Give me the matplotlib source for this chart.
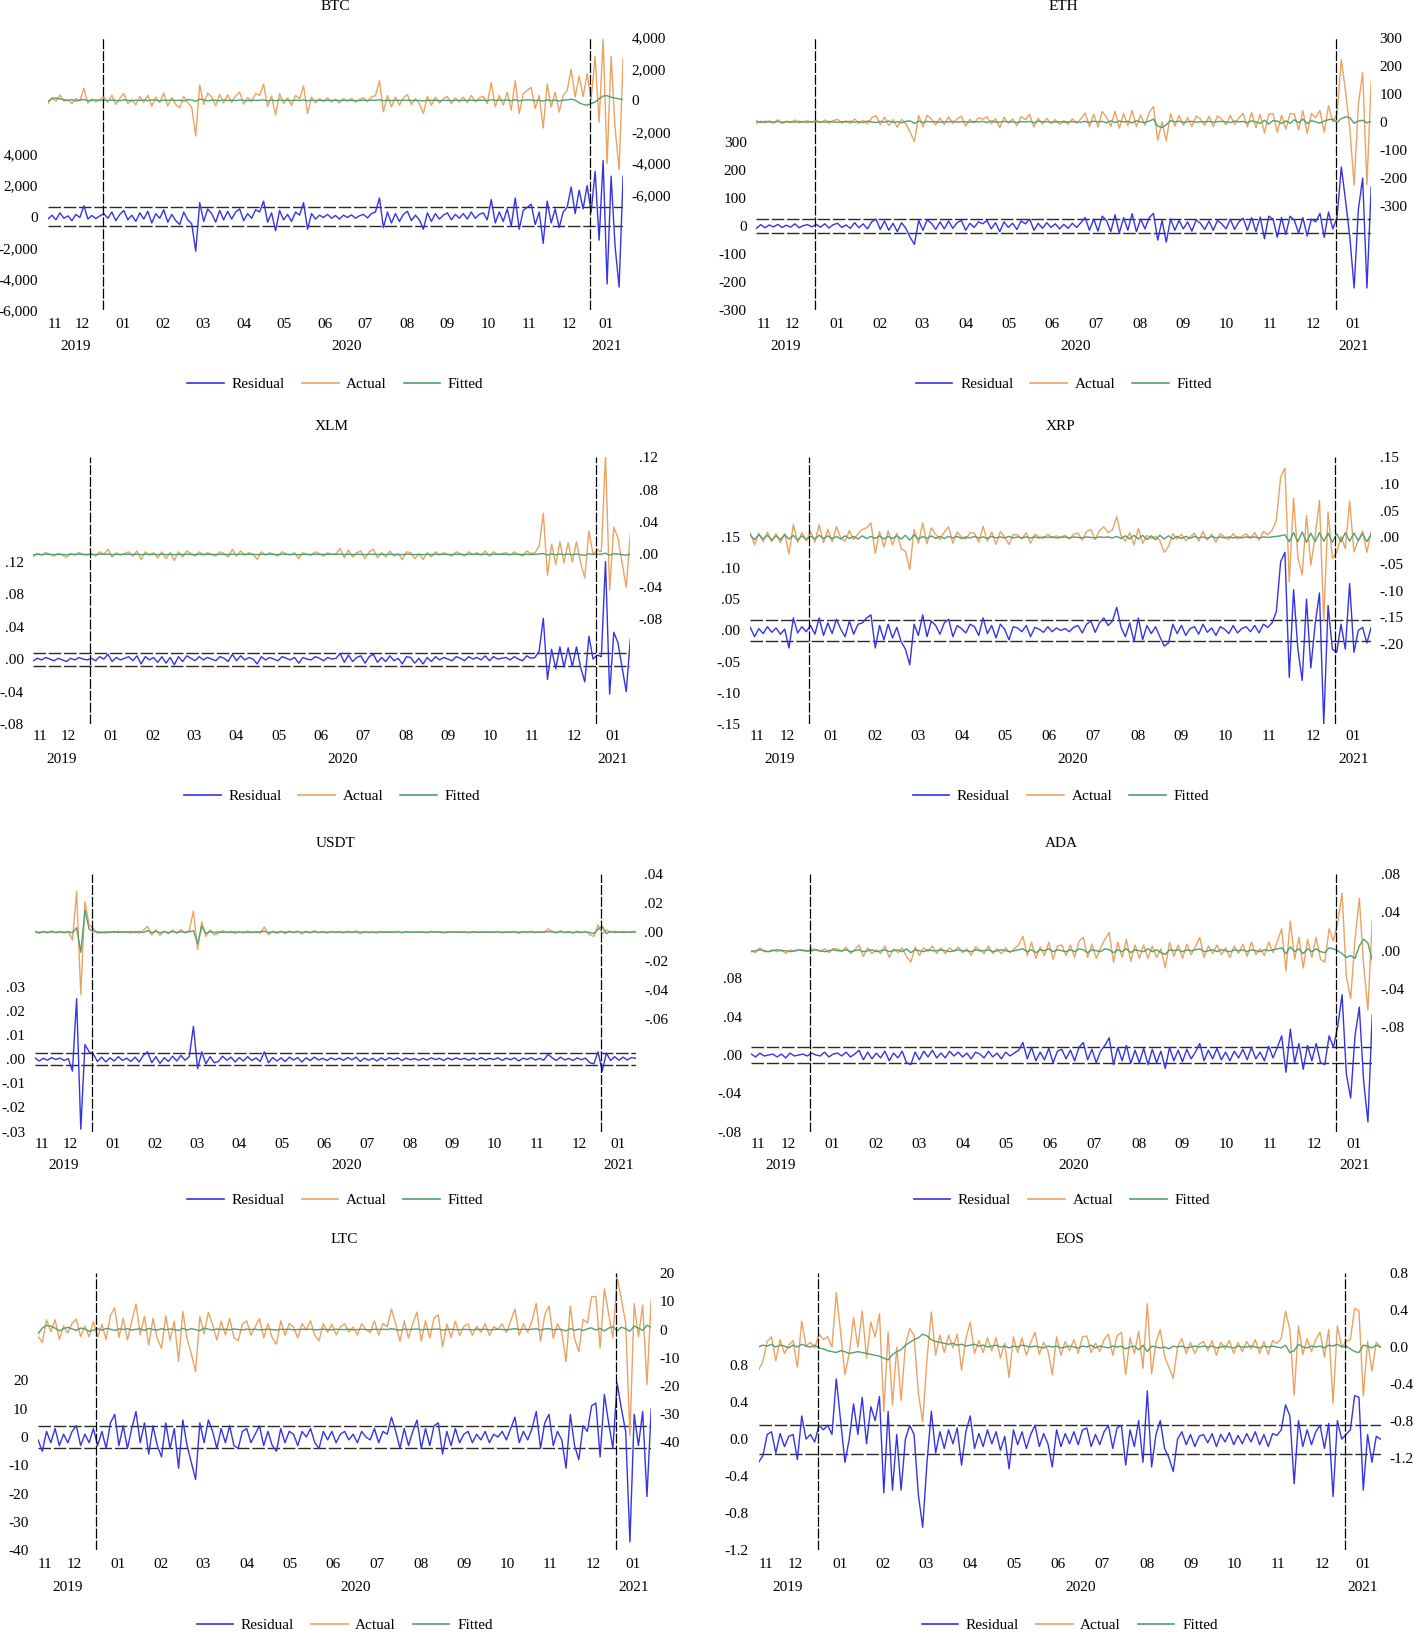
import numpy as np
import pandas as pd
import matplotlib
matplotlib.use("Agg")
import matplotlib.pyplot as plt
import matplotlib.transforms as mtransforms
import matplotlib.dates as mdates
from matplotlib.lines import Line2D

plt.rcParams["font.family"] = ["Liberation Serif", "DejaVu Serif"]
plt.rcParams["font.size"] = 11

# ---------------- data ----------------
dates = pd.date_range("2019-11-21", periods=145, freq="3D")
break_dates = ["2020-01-01", "2021-01-01"]
legend_labels = ["Residual", "Actual", "Fitted"]

# BTC (USD)
btc_res = [-150, 100, -200, 250, -100, 50, -250, 150, -50, 700, -150, 80, -120, 60,
           200, -100, 300, -250, 150, 400, -200, 100, -300, 250,
           -150, 350, -400, 200, -100, 450, -350, 150, -250, -500,
           300, -200, -450, -2200, 900, -300, 500, 200, -350, 400,
           -200, 350, -150, 300, 500, -250, 200, -100, 450, 300,
           1000, -350, 250, -900, 400, -200, 150, -300, 300, 100,
           900, -800, 200, -150, 100, -50, 150, -100, 80, -150,
           100, -50, 120, -100, 60, 150, -80, 200, 300, 1200,
           -700, 300, -400, 200, -300, 150, 350, -250, 100, -200,
           -800, 250, -300, 200, -150, 100, 250, -200, 150, -100,
           200, -150, 300, -100, 150, 250, -200, 1100, -400, 300,
           -300, 500, -600, 1200, -800, 400, 600, 800, -500, 300,
           -1700, 1000, -400, 500, -700, 300, 600, 1900, 200, 1700,
           500, 2000, 300, 2900, -1500, 3600, -4300, 2600, -1900, -4500, 2600]
btc_fit = [-50, 100, 150, 100, 50, 0, 50, -30, 20, 60, -20, 10, 30, 0,
           20, -10, 30, 0, -20, 40, 10, -30, 20, 0,
           30, -20, 40, 10, -30, 20, 0, 30, -10, 20,
           -40, 50, 30, -60, 80, 40, -30, 20, 10, -20,
           30, 0, 20, -10, 30, 10, -20, 20, 0, 10,
           40, -30, 20, -20, 30, 0, 10, -10, 20, 0,
           30, -20, 10, 0, 10, -10, 10, 0, 10, -10,
           10, 0, 10, -10, 0, 10, 0, 20, 10, 40,
           -20, 10, -10, 20, 0, 10, 20, -10, 10, 0,
           -30, 10, 0, 10, -10, 0, 10, -10, 10, 0,
           10, 0, 20, 0, 10, 20, -10, 40, 0, 20,
           0, 30, -20, 50, -30, 20, 40, 30, -20, 20,
           -50, 40, -20, 30, -40, 20, 30, 80, 20, -150,
           -250, -300, -200, -100, 100, 280, 300, 200, 150, 100, 50]
btc_se = 600
btc_ticks = [4000, 2000, 0, -2000, -4000, -6000]
btc_labels = ["4,000", "2,000", "0", "-2,000", "-4,000", "-6,000"]

# ETH (USD)
eth_res = [-8, 5, -6, 4, -3, 6, -5, 3, -4, 8, -6, 2, 5, -3,
           6, -4, 8, -7, 5, 10, -5, 4, -8, 12,
           -6, 8, -10, 15, 25, -12, 18, -15, 10, -20,
           12, -8, -40, -65, 20, -15, 22, 10, -12, 15,
           -10, 18, -8, 12, 20, -15, 10, -5, 15, 8,
           20, -10, 12, -20, 15, -5, 10, -12, 18, 8,
           25, -15, 10, -8, 12, -5, 8, -10, 6, -8,
           10, -5, 12, 30, -15, 25, -18, 35, 20, -20,
           40, -25, 30, -15, 44, -20, 25, -10, 30, 45,
           -50, 20, -57, 25, -15, 20, -10, 15, -18, 22,
           10, -12, 18, -15, 20, 8, -10, 25, -12, 15,
           28, -15, 30, -20, 32, -45, 35, 25, -40, 30,
           -30, 35, 20, -25, 30, -35, 25, 15, 45, -40,
           50, -10, 30, 210, 90, -40, -220, 60, 170, -220, 140]
eth_fit = [3, -2, 2, 0, -1, 2, -1, 0, 1, -1, 2, 0, -1, 1,
           0, 1, -1, 2, 0, -1, 1, 0, 2, -1,
           1, -2, 3, 0, -2, 2, -1, 3, -2, 1,
           -3, 2, 4, -5, 3, -2, 2, 0, 1, -1,
           1, 0, 2, -1, 1, 0, -1, 1, 0, 2,
           -2, 3, 0, -1, 2, 0, 1, -2, 1, 0,
           2, -3, 3, 0, 1, -1, 0, 1, -1, 0,
           1, 0, -1, 2, -2, 3, 0, 2, -3, 4,
           -2, 3, 0, 2, -3, 4, 0, -2, 3, 10,
           -15, -20, -10, 5, 0, 3, -2, 1, 2, -1,
           1, 0, 2, -1, 1, 2, 0, -2, 3, 0,
           2, -3, 4, 0, -5, 6, -8, 5, 3, -6,
           4, -5, 8, -3, 10, -6, 5, 0, -4, 3,
           8, 10, -2, 12, 18, 15, -5, 3, 6, -3, 2]
eth_se = 26
eth_ticks = [300, 200, 100, 0, -100, -200, -300]
eth_labels = ["300", "200", "100", "0", "-100", "-200", "-300"]

# XLM (values in 1e-3)
xlm_res = [-2, 1, -1, 2, 0, -2, 1, -1, -3, 1, -1, 2, 0, -1,
           1, -2, 3, 0, 6, -3, 2, -1, 1, 3,
           -2, 4, -6, 3, -1, 2, -4, 3, -5, 2,
           -7, 3, -3, 4, 1, -2, 3, -1, 2, 0,
           -2, 3, 1, -3, 6, -2, 4, -1, 2, 0,
           -6, 3, -1, 2, 0, -2, 3, 1, -1, 2,
           -5, 2, 0, -1, 3, 1, -2, 2, 0, 1,
           7, -4, 5, -3, 2, 4, -5, 3, 6, -4,
           2, -3, 4, -2, 1, -6, 3, 2, -5, 1,
           -6, 2, -3, 3, -1, 2, 0, -2, 3, 1,
           -2, 3, 0, 2, -1, 4, -2, 3, 0, 1,
           2, -1, 3, 0, -2, 4, 1, 2, 10, 50,
           -25, 12, -12, 15, -10, 14, -9, 15, -10, -28,
           28, 0, 5, 3, 120, -43, 33, 20, -10, -40, 25]
xlm_fit = [-0.5, 0.3, -0.2, 0.4, 0.0, -0.3, 0.2, 0.0, -0.4, 0.2, 0.0, 0.3, -0.1, 0.0,
           0.2, -0.2, 0.3, 0.0, 0.4, -0.3, 0.1, 0.0, 0.1, 0.2,
           -0.2, 0.3, -0.4, 0.2, 0.0, 0.1, -0.3, 0.2, -0.3, 0.1,
           -0.4, 0.2, -0.2, 0.3, 0.0, -0.1, 0.2, 0.0, 0.1, 0.0,
           -0.1, 0.2, 0.0, -0.2, 0.3, -0.1, 0.2, 0.0, 0.1, 0.0,
           -0.3, 0.2, 0.0, 0.1, 0.0, -0.1, 0.2, 0.0, 0.0, 0.1,
           -0.3, 0.1, 0.0, 0.0, 0.2, 0.0, -0.1, 0.1, 0.0, 0.0,
           0.4, -0.2, 0.3, -0.2, 0.1, 0.2, -0.3, 0.2, 0.3, -0.2,
           0.1, -0.2, 0.2, -0.1, 0.0, -0.3, 0.2, 0.1, -0.3, 0.0,
           -0.3, 0.1, -0.2, 0.2, 0.0, 0.1, 0.0, -0.1, 0.2, 0.0,
           -0.1, 0.2, 0.0, 0.1, 0.0, 0.2, -0.1, 0.2, 0.0, 0.0,
           0.1, 0.0, 0.2, 0.0, -0.1, 0.2, 0.0, 0.1, 0.5, 1.0,
           -0.8, 0.6, -0.5, 0.6, -0.4, 0.5, -0.4, 0.6, -0.5, -1.0,
           0.8, 0.0, 0.3, 0.2, 1.5, -1.0, 0.8, 0.5, -0.3, -1.0, 0.5]
xlm_se = 8
xlm_lticks = [120, 80, 40, 0, -40, -80]
xlm_llabels = [".12", ".08", ".04", ".00", "-.04", "-.08"]
xlm_rticks = [120, 80, 40, 0, -40, -80]
xlm_rlabels = [".12", ".08", ".04", ".00", "-.04", "-.08"]

# XRP (values in 1e-3)
xrp_res = [5, -10, 3, -5, 6, -3, 4, -6, 2, -28, 20, -4, 6, -2,
           8, -6, 20, -8, 12, -5, 18, 2, -10, 15,
           -6, 10, 12, 20, 25, -28, 8, -15, 10, -12,
           5, -18, -30, -55, 10, -8, 25, -10, 15, 8,
           -6, 12, 18, -10, 8, 3, -4, 10, 6, -8,
           20, -5, 8, -12, 10, 2, -15, 6, 4, -2,
           8, -10, 5, 2, -3, 6, -2, 4, 0, 3,
           -2, 5, 8, -4, 10, 15, -3, 12, 20, 8,
           15, 37, 5, -10, 12, -18, 20, -15, 8, -5,
           6, -10, -25, -20, 10, -5, 8, -8, 3, 6,
           -6, 10, -3, 4, -8, 6, 2, -5, 8, -4,
           3, 6, -2, 8, -4, 10, 5, 12, 30, 110,
           125, -75, 65, -30, -80, 50, -60, 10, 60, -150,
           40, -30, -35, 10, -30, 75, -35, 0, 5, -20, 5]
xrp_fit = [4, -4, 5, -3, 4, -5, 3, -4, 5, -3, 4, -5, 3, -4,
           3, -3, 4, -2, 3, -3, 2, -3, 3, -2,
           2, -3, 3, -2, 2, -2, 3, -3, 2, -2,
           3, -3, 4, -5, 5, -3, 2, -2, 3, -2,
           2, -2, 2, -1, 2, -2, 1, -1, 2, -1,
           1, -2, 2, -1, 1, -1, 2, -1, 1, -1,
           1, -1, 1, -1, 1, 0, 1, -1, 0, 1,
           -1, 1, 0, -1, 1, 0, -1, 1, 0, 1,
           -1, 2, -2, 3, -3, 4, -3, 4, -4, 3,
           -4, 4, -3, 3, -3, 2, -2, 2, -2, 2,
           -1, 1, -2, 2, -1, 1, -1, 1, -1, 1,
           -1, 1, 0, 1, -1, 1, 0, 1, 2, 3,
           5, -8, 9, -8, 10, -9, 8, -8, 9, -7,
           8, -9, 7, -8, 9, -7, 8, -6, 7, -8, 6]
xrp_se = 17
xrp_lticks = [150, 100, 50, 0, -50, -100, -150]
xrp_llabels = [".15", ".10", ".05", ".00", "-.05", "-.10", "-.15"]
xrp_rticks = [150, 100, 50, 0, -50, -100, -150, -200]
xrp_rlabels = [".15", ".10", ".05", ".00", "-.05", "-.10", "-.15", "-.20"]

# USDT (values in 1e-4)
usdt_res = [5, -8, 3, -5, 6, -2, 4, -6, 2, -50, 250, -290, 60, 30,
            20, -10, 8, -12, 5, -8, 10, -6, 4, -10,
            8, -12, 15, 30, -15, 10, -18, 6, -10, 12,
            -8, 15, -5, 10, 135, -40, 30, -20, 10, -15,
            -10, 12, -5, 8, -12, 6, -8, 10, -6, 5,
            -10, 30, -15, 6, -8, 5, -10, 8, -4, 6,
            -12, 5, -6, 8, -4, 3, -6, 5, -3, 4,
            -5, 6, -3, 8, -10, 4, -5, 3, -8, 5,
            -4, 6, -3, 5, -6, 4, -3, 2, -5, 3,
            -4, 5, -2, 3, -6, 4, -3, 5, -2, 3,
            -5, 4, -3, 6, -4, 3, -2, 5, -6, 4,
            -3, 5, -8, 4, -2, 6, -4, 3, -5, 20,
            5, -6, 8, -4, 3, -6, 5, -3, 4, -15,
            -20, 30, -50, 25, -6, 10, -5, 8, -4, 6, 3]
usdt_fit = [3, -2, 2, -1, 2, -2, 1, -1, 2, -5, 30, -140, 150, 20,
            5, 2, -5, 3, -2, 4, -3, 2, -1, 3,
            -2, 4, -3, 10, -5, 6, -4, 2, -3, 4,
            -2, 3, -1, 2, 10, -80, 40, -10, 5, -3,
            2, -2, 1, -1, 2, -1, 1, -2, 1, -1,
            2, 6, -3, 1, -1, 2, -1, 1, -1, 2,
            -1, 1, -1, 2, -1, 1, -1, 1, 0, 1,
            -1, 1, 0, 1, -1, 1, 0, -1, 1, 0,
            1, -1, 0, 1, -1, 1, 0, -1, 1, 0,
            -1, 1, 0, 1, -1, 0, 1, -1, 0, 1,
            -1, 1, 0, -1, 1, 0, -1, 1, 0, -1,
            1, 0, -1, 1, 0, 1, -1, 0, 1, 3,
            1, -1, 2, -1, 1, -2, 1, -1, 2, -3,
            -10, 20, 40, -10, 5, -3, 2, -2, 1, -1, 1]
usdt_se = 24
usdt_lticks = [300, 200, 100, 0, -100, -200, -300]
usdt_llabels = [".03", ".02", ".01", ".00", "-.01", "-.02", "-.03"]
usdt_rticks = [400, 200, 0, -200, -400, -600]
usdt_rlabels = [".04", ".02", ".00", "-.02", "-.04", "-.06"]

# ADA (values in 1e-3)
ada_res = [1, -2, 2, -1, 0, 1, -2, 1, -3, 2, -1, 0, 1, -1,
           2, 0, -1, 3, -2, 1, 2, -1, 3, -2,
           1, 5, -5, 3, -4, 2, -3, 4, -6, 2,
           -3, 4, -8, -10, 3, -5, 4, -2, 5, -3,
           2, -3, 4, -1, 3, -2, 2, -4, 3, 1,
           -3, 4, -2, 2, -4, 3, -1, 2, 5, 13,
           -4, 8, -6, 3, -5, 7, -8, 4, 6, -4,
           5, -6, 8, 13, -5, 6, -8, 4, 10, 18,
           -10, 8, -6, 10, -9, 5, -8, 7, -10, 6,
           -8, 4, -14, 8, -6, 5, -7, 6, -4, 3,
           12, -6, 5, -4, 7, -5, 3, -6, 4, -3,
           6, -5, 8, -4, 3, -6, 9, -3, 8, 20,
           -18, 27, -8, 12, -15, 10, -6, 12, -8, -10,
           20, 8, 30, 63, -20, -45, 20, 50, -27, -70, 42]
ada_fit = [-1, 0, 1, 0, -1, 0, 1, 0, 0, -1, 0, 1, 0, 0,
           0, 1, 0, -1, 0, 1, 0, 0, 1, -1,
           0, 1, -1, 0, 1, -1, 0, 1, -1, 0,
           1, -1, 2, -2, 1, 0, -1, 1, 0, 0,
           1, 0, -1, 0, 1, 0, 0, -1, 1, 0,
           0, 1, -1, 0, 1, 0, -1, 0, 1, 2,
           -1, 1, -2, 1, 0, 2, -1, 1, 0, -1,
           1, -1, 2, 1, -2, 1, 0, -1, 2, 1,
           -2, 1, -1, 2, -2, 1, 0, -1, 2, -1,
           1, -2, -4, 1, 0, 1, -1, 1, 0, 1,
           2, -1, 0, 1, -1, 1, 0, -1, 1, 0,
           1, -1, 1, 0, -1, 1, 0, 1, 2, 3,
           -3, 4, -1, 2, -3, 2, -1, 2, -1, -2,
           3, 2, 0, -3, -7, -5, -8, 5, 12, 8, -10]
ada_se = 8.7
ada_ticks = [80, 40, 0, -40, -80]
ada_labels = [".08", ".04", ".00", "-.04", "-.08"]

# LTC (USD)
ltc_res = [-1, -5, 2, -2, 3, -3, 1, -2, 2, 4, -3, 1, -2, 3,
           -3, 2, -4, 5, 8, -3, 4, -4, 3, 9,
           -2, 5, -6, 4, -3, -7, 5, -4, 3, -11,
           6, -3, -9, -15, 5, -2, 6, 2, -4, 3,
           -2, 4, -3, -4, 2, 3, -2, 1, 4, -3,
           2, -3, -5, 3, -2, 2, 1, -3, 2, 0,
           3, -2, -4, 2, -1, 2, -2, 1, 2, -1,
           1, -2, 2, 0, -1, 3, -2, 2, 1, 7,
           2, -4, 3, -3, 2, 6, -4, 3, -3, 4,
           5, -6, 2, -3, 3, -2, 1, 2, -2, 1,
           -1, 2, -2, 1, 0, 2, -1, 3, 7, -2,
           2, -1, 3, 9, -4, 5, 8, -3, 2, -1,
           -11, 8, -3, -8, 4, 2, 11, 12, -7, 15,
           5, -4, 19, 10, 2, -37, 8, -3, 9, -21, 10]
ltc_fit = [-1.5, 0.5, 1.5, 1.2, 0.5, -0.5, 0.3, 0.8, 0.2, -0.3, 0.5, 0.2, -0.6, -0.2,
           0.3, -0.2, 0.4, 0.1, -0.3, 0.2, 0.0, 0.3, -0.2, 0.1,
           0.2, -0.3, 0.4, 0.0, -0.2, 0.3, -0.1, 0.2, 0.0, -0.3,
           0.4, -0.2, 0.3, 0.0, -0.4, 0.5, 0.1, -0.2, 0.2, 0.0,
           0.1, -0.1, 0.2, 0.0, -0.1, 0.1, 0.0, 0.1, -0.1, 0.0,
           0.1, 0.0, -0.2, 0.1, 0.0, 0.1, -0.1, 0.0, 0.1, 0.0,
           0.1, -0.1, 0.0, 0.1, 0.0, -0.1, 0.1, 0.0, 0.0, 0.1,
           -0.1, 0.0, 0.1, 0.0, -0.1, 0.1, 0.0, 0.1, 0.0, 0.3,
           0.0, -0.2, 0.1, 0.0, 0.1, 0.2, -0.1, 0.1, 0.0, 0.1,
           0.2, -0.2, 0.0, 0.1, 0.0, -0.1, 0.1, 0.0, -0.1, 0.1,
           0.0, 0.1, -0.1, 0.0, 0.1, 0.0, -0.1, 0.1, 0.3, 0.0,
           0.1, 0.0, 0.1, 0.3, -0.2, 0.2, 0.3, -0.1, 0.1, 0.0,
           -0.5, 0.4, -0.3, 0.2, -0.4, 0.3, 0.6, -0.2, 0.4, -0.5,
           0.5, 1.0, -0.5, 0.8, 0.3, -0.6, 1.2, 0.5, -0.3, 1.5, 0.8]
ltc_se = 3.9
ltc_ticks = [20, 10, 0, -10, -20, -30, -40]
ltc_labels = ["20", "10", "0", "-10", "-20", "-30", "-40"]

# EOS (values in 1e-2)
eos_res = [-25, -18, 5, 8, -15, 6, -8, 3, 5, -22, 25, 0, 5, -3,
           15, 10, 15, 5, 65, 20, -25, 0, 38, 5,
           45, -5, 35, 20, 46, -58, 30, -55, 5, -55,
           0, 15, 5, -60, -95, -25, 30, -15, 8, -10,
           10, -5, 12, -28, 8, 25, -10, 6, -8, 10,
           -5, 8, -12, 3, -32, 10, -6, 8, -10, 5,
           15, -8, 6, -5, -30, 10, -8, 6, -5, 8,
           -6, 10, 12, -8, 5, -6, 8, 15, -10, 12,
           15, -28, 10, -8, 20, -25, 52, -30, 5, 20,
           -10, -20, -35, 0, 8, -6, 5, -8, 3, 5,
           -4, 6, -8, 5, -3, 7, -6, 4, -5, 6,
           -3, 8, -6, 5, -8, 6, 4, 10, 37, 25,
           -48, 20, -8, 10, -6, 8, 15, -10, 17, -62,
           20, 0, 5, 10, 47, 45, -55, 5, -25, 3, 0]
eos_fit = [0, 2, 1, 3, 0, 2, 1, -1, 2, 0, 3, 1, 0, 2,
           -1, -2, -4, -5, -6, -4, -5, -7, -6, -5,
           -6, -7, -8, -9, -10, -12, -14, -8, -5, -3,
           2, 5, 8, 10, 14, 12, 8, 6, 5, 4,
           3, 4, 2, 3, 1, 2, 3, 1, 2, 0,
           1, 2, 0, 1, -1, 1, 0, 2, 1, 0,
           1, 0, -1, 1, 0, 1, -1, 0, 1, 0,
           -1, 1, 0, 2, -1, 1, 0, -1, 1, 0,
           1, -2, 0, 1, -3, 2, -5, 1, 0, -1,
           0, -2, 1, 0, 1, -1, 0, 1, 0, 1,
           0, 1, -1, 0, 1, 0, -1, 1, 0, 0,
           1, 0, -1, 1, 0, 1, 0, -1, 2, -6,
           -4, 3, 0, -1, 1, 0, 1, -1, 2, 1,
           3, 0, 1, -2, -5, -6, 2, 1, -1, 2, 0]
eos_se = 15.7
eos_ticks = [80, 40, 0, -40, -80, -120]
eos_labels = ["0.8", "0.4", "0.0", "-0.4", "-0.8", "-1.2"]

# ---------------- layout ----------------
FW, FH = 1416, 1634
S = 1416 / 1359.0
fig = plt.figure(figsize=(FW / 100, FH / 100), dpi=100)
fig.patch.set_facecolor("white")

C_RES = "#3434e6"
C_ACT = "#eca262"
C_FIT = "#52a070"


def fx(xd):
    return xd * S / FW


def fy(yd):
    return 1 - yd * S / FH


def panel(title, res, fit, scale, se, lt, ll, rt, rl, box, lylim, rylim, offs):
    x0, x1, y0, y1 = box
    dt, dm, dyr, dl = offs
    res = np.asarray(res, float) * scale
    fit = np.asarray(fit, float) * scale
    act = res + fit
    ax = fig.add_axes([fx(x0), fy(y1), fx(x1) - fx(x0), fy(y0) - fy(y1)])
    ax2 = ax.twinx()
    ax.plot(dates, res, color=C_RES, lw=1.0, zorder=3)
    for s in (se, -se):
        ax.axhline(s * scale, color="#2a2a2a", lw=1.0, ls=(0, (9, 2)), zorder=2)
    ax2.plot(dates, act, color=C_ACT, lw=1.0, zorder=3)
    ax2.plot(dates, fit, color=C_FIT, lw=1.0, zorder=4)
    for b in break_dates:
        ax2.axvline(pd.Timestamp(b), color="black", lw=0.9, ls=(0, (8, 1.5)), zorder=5)
    ax.set_xlim(dates[0], dates[-1])
    ax.set_ylim(lylim[0], lylim[1])
    ax2.set_ylim(rylim[0], rylim[1])
    ax.set_yticks(np.asarray(lt, float) * scale)
    ax.set_yticklabels(ll)
    ax2.set_yticks(np.asarray(rt, float) * scale)
    ax2.set_yticklabels(rl)
    for a in (ax, ax2):
        for sp in a.spines.values():
            sp.set_visible(False)
        a.tick_params(length=0, labelsize=11)
        a.set_xticks([])
    ax.tick_params(axis="y", pad=7)
    ax2.tick_params(axis="y", pad=6)
    ax.patch.set_visible(False)

    trans = mtransforms.blended_transform_factory(ax.transData, fig.transFigure)
    start, end = dates[0], dates[-1]
    m = pd.Timestamp(start.year, start.month, 1)
    while m <= end:
        nm = m + pd.offsets.MonthBegin(1)
        a = max(m, start)
        b = min(nm, end)
        c = a + (b - a) / 2
        ax.text(mdates.date2num(c), fy(y1 + dm), f"{m.month:02d}", transform=trans,
                ha="center", va="center", fontsize=11)
        m = nm
    for yr in range(start.year, end.year + 1):
        a = max(pd.Timestamp(yr, 1, 1), start)
        b = min(pd.Timestamp(yr + 1, 1, 1), end)
        c = a + (b - a) / 2
        ax.text(mdates.date2num(c), fy(y1 + dyr), str(yr), transform=trans,
                ha="center", va="center", fontsize=11)
    cx = (fx(x0) + fx(x1)) / 2
    fig.text(cx, fy(y0 - dt), title, ha="center", va="center", fontsize=11)
    handles = [Line2D([], [], color=c, lw=1.2) for c in (C_RES, C_ACT, C_FIT)]
    fig.legend(handles, legend_labels, loc="center", bbox_to_anchor=(cx, fy(y1 + dl)),
               ncol=3, frameon=False, handlelength=2.4, columnspacing=1.1,
               handletextpad=0.5, fontsize=11, borderpad=0)


panel("BTC", btc_res, btc_fit, 1.0, btc_se, btc_ticks, btc_labels, btc_ticks, btc_labels,
      (46, 598, 36, 298), (-6000, 11467), (-13351, 4000), (30, 13, 35, 71))
panel("ETH", eth_res, eth_fit, 1.0, eth_se, eth_ticks, eth_labels, eth_ticks, eth_labels,
      (726, 1316, 36, 298), (-300, 670), (-670, 300), (30, 13, 35, 71))
panel("XLM", xlm_res, xlm_fit, 1e-3, xlm_se, xlm_lticks, xlm_llabels, xlm_rticks, xlm_rlabels,
      (32, 605, 439, 695), (-0.08, 0.248), (-0.210, 0.12), (30, 12, 34, 69))
panel("XRP", xrp_res, xrp_fit, 1e-3, xrp_se, xrp_lticks, xrp_llabels, xrp_rticks, xrp_rlabels,
      (720, 1316, 439, 695), (-0.15, 0.277), (-0.35, 0.15), (30, 12, 34, 69))
panel("USDT", usdt_res, usdt_fit, 1e-4, usdt_se, usdt_lticks, usdt_llabels, usdt_rticks, usdt_rlabels,
      (33.5, 610, 839, 1086), (-0.03, 0.0765), (-0.1377, 0.04), (29, 12, 33, 66))
panel("ADA", ada_res, ada_fit, 1e-3, ada_se, ada_ticks, ada_labels, ada_ticks, ada_labels,
      (721, 1317, 839, 1086), (-0.08, 0.189), (-0.189, 0.08), (29, 12, 33, 66))
panel("LTC", ltc_res, ltc_fit, 1.0, ltc_se, ltc_ticks, ltc_labels, ltc_ticks, ltc_labels,
      (36.5, 625, 1222, 1488), (-40, 57.8), (-78.5, 20), (32, 14, 36, 72))
panel("EOS", eos_res, eos_fit, 1e-2, eos_se, eos_ticks, eos_labels, eos_ticks, eos_labels,
      (728, 1325, 1222, 1488), (-1.2, 1.789), (-2.206, 0.8), (32, 14, 36, 72))

fig.savefig("out.png", dpi=100, facecolor="white")
